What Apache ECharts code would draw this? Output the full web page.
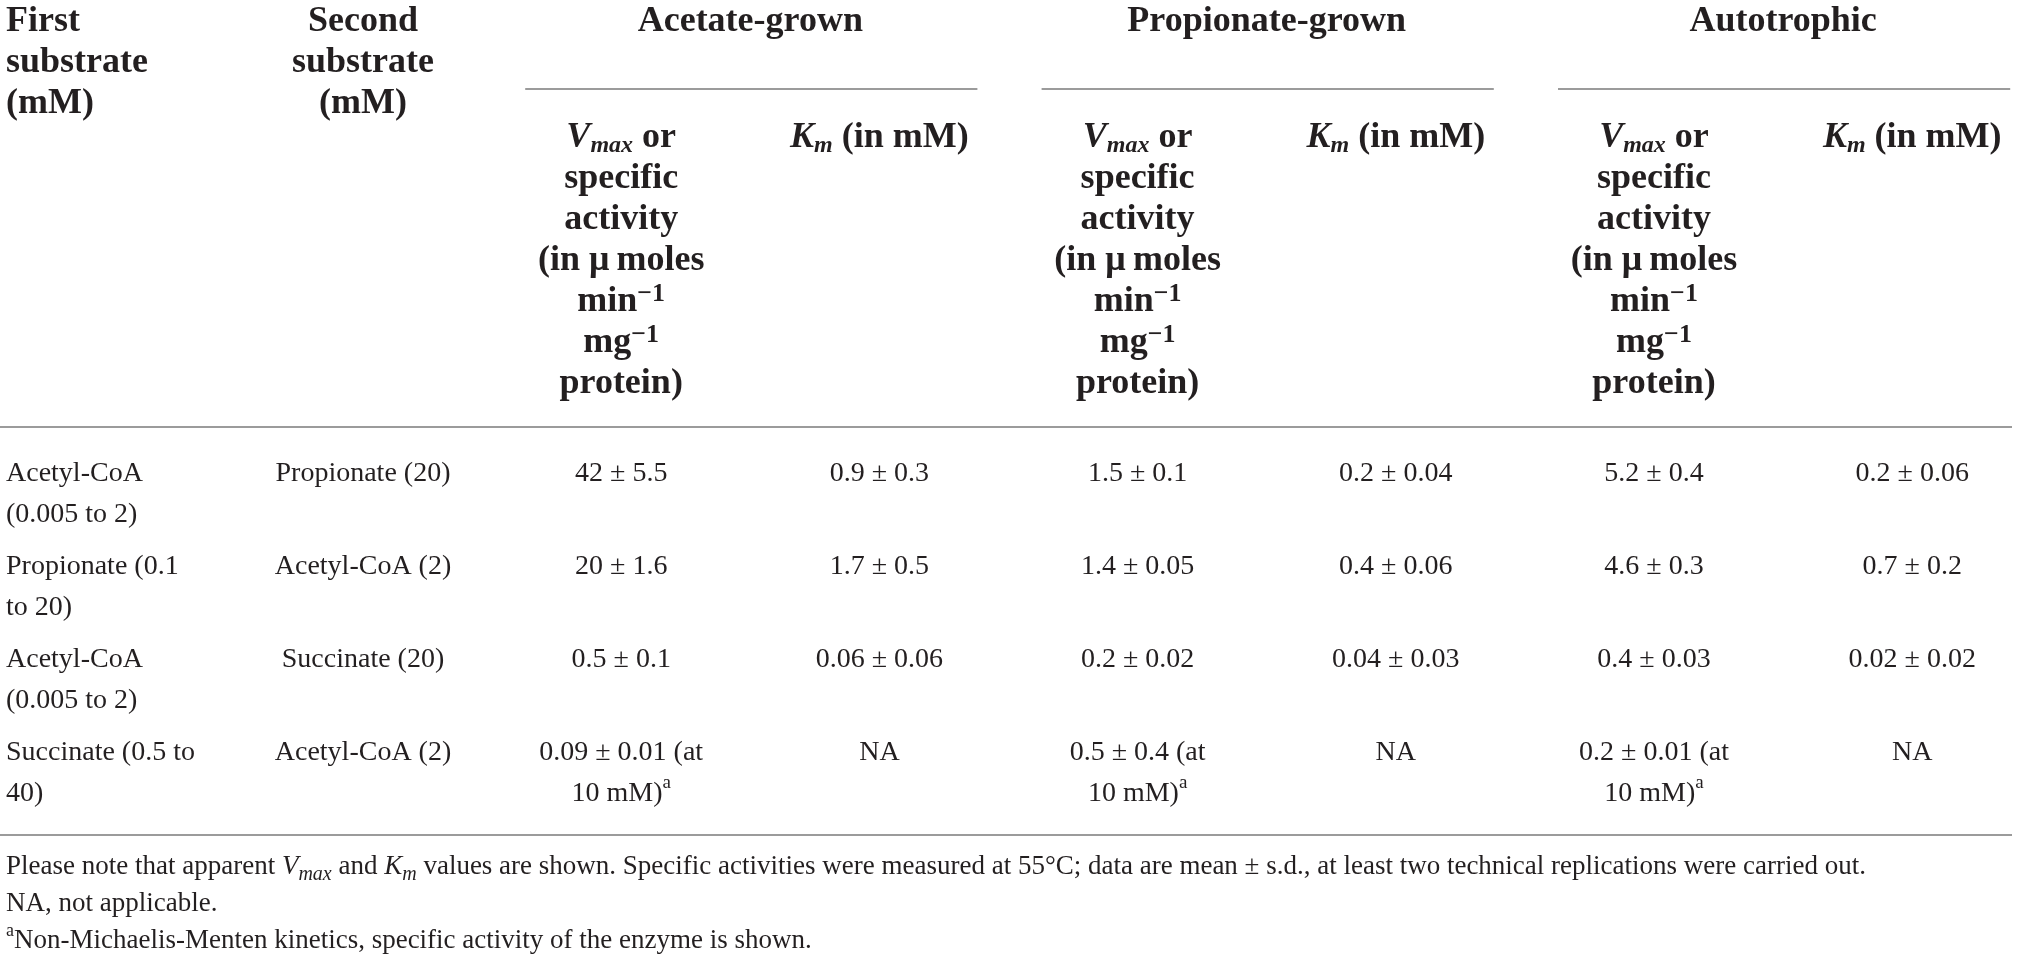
<!DOCTYPE html>
<html>
<head>
<meta charset="utf-8">
<title>Enzyme kinetics table</title>
<script src="https://cdn.jsdelivr.net/npm/echarts@6.0.0/dist/echarts.min.js"></script>
<style>
    html, body { margin: 0; padding: 0; background: #fff; }
    #main { width: 2019px; height: 962px; }
</style>
</head>
<body>
<div id="main"></div>
<script>
// 1、表格数据（每行 = 一组底物组合）
var firstSubstrate = ['Acetyl-CoA\n(0.005 to 2)', 'Propionate (0.1\nto 20)', 'Acetyl-CoA\n(0.005 to 2)', 'Succinate (0.5 to\n40)'];
var secondSubstrate = ['Propionate (20)', 'Acetyl-CoA (2)', 'Succinate (20)', 'Acetyl-CoA (2)'];

var acetateVmax = [42, 20, 0.5, 0.09];
var acetateVmaxSd = [5.5, 1.6, 0.1, 0.01];
var acetateKm = [0.9, 1.7, 0.06, null];
var acetateKmSd = [0.3, 0.5, 0.06, null];

var propionateVmax = [1.5, 1.4, 0.2, 0.5];
var propionateVmaxSd = [0.1, 0.05, 0.02, 0.4];
var propionateKm = [0.2, 0.4, 0.04, null];
var propionateKmSd = [0.04, 0.06, 0.03, null];

var autotrophicVmax = [5.2, 4.6, 0.4, 0.2];
var autotrophicVmaxSd = [0.4, 0.3, 0.03, 0.01];
var autotrophicKm = [0.2, 0.7, 0.02, null];
var autotrophicKmSd = [0.06, 0.2, 0.02, null];

// 非米氏动力学的行：给出该浓度下的比活性
var measuredAt = [null, null, null, '10 mM'];

// 表头
var groupNames = ['Acetate-grown', 'Propionate-grown', 'Autotrophic'];
var firstHeader = 'First\nsubstrate\n(mM)';
var secondHeader = 'Second\nsubstrate\n(mM)';
var vmaxHeader = '{bi|V}{bsub|max}{b| or}\n{b|specific}\n{b|activity}\n{b|(in \u03bc\u2009moles}\n{b|min}{bsup|\u22121}\n{b|mg}{bsup|\u22121}\n{b|protein)}';
var kmHeader = '{bi|K}{bsub|m}{b| (in mM)}';

// 表注
var footnotes = [
    '{t|Please note that apparent }{i|V}{sub|max}{t| and }{i|K}{sub|m}{t| values are shown. Specific activities were measured at 55\u00b0C; data are mean \u00b1 s.d., at least two technical replications were carried out.}',
    '{t|NA, not applicable.}',
    '{sup|a}{t|Non-Michaelis-Menten kinetics, specific activity of the enzyme is shown.}'
];

// 2、版面参数
var W = 2019, H = 962;
var FONT = '"Liberation Serif", "Times New Roman", serif';
var INK = '#231f20';
var RULE = '#9b9b9b';
var colStep = 258.2, col1X = 363;        // 列中心间距
var rowTop = 453.5, rowStep = 93;        // 数据行顶端与行距
var leftX = 6;

function colX(i) { return col1X + (i - 1) * colStep; }

function wrap(s) {
    return s.split('\n').map(function (l) { return '{t|' + l + '}'; }).join('\n');
}

function wrapHead(s) {
    return s.split('\n').map(function (l) { return '{b|' + l + '}'; }).join('\n');
}

function fmt(m, sd, at) {
    if (m == null) return '{t|NA}';
    if (at) return '{t|' + m + ' \u00b1 ' + sd + ' (at}\n{t|' + at + ')}{sup|a}';
    return '{t|' + m + ' \u00b1 ' + sd + '}';
}

function cells(means, sds) {
    return means.map(function (m, r) { return fmt(m, sds[r], measuredAt[r]); });
}

var columns = [
    firstSubstrate.map(wrap),
    secondSubstrate.map(wrap),
    cells(acetateVmax, acetateVmaxSd),
    cells(acetateKm, acetateKmSd),
    cells(propionateVmax, propionateVmaxSd),
    cells(propionateKm, propionateKmSd),
    cells(autotrophicVmax, autotrophicVmaxSd),
    cells(autotrophicKm, autotrophicKmSd)
];

var dataRich = {
    t: { fontFamily: FONT, fontSize: 28, lineHeight: 41, color: INK },
    sup: { fontFamily: FONT, fontSize: 19, lineHeight: 27, verticalAlign: 'top', color: INK }
};

var headRich = {
    b: { fontFamily: FONT, fontWeight: 'bold', fontSize: 36, lineHeight: 41, color: INK },
    bi: { fontFamily: FONT, fontWeight: 'bold', fontStyle: 'italic', fontSize: 36, lineHeight: 41, color: INK },
    bsub: { fontFamily: FONT, fontWeight: 'bold', fontStyle: 'italic', fontSize: 24, lineHeight: 21, verticalAlign: 'bottom', color: INK },
    bsup: { fontFamily: FONT, fontWeight: 'bold', fontSize: 26, lineHeight: 22, verticalAlign: 'top', color: INK }
};

var noteRich = {
    t: { fontFamily: FONT, fontSize: 27, lineHeight: 37, color: INK },
    i: { fontFamily: FONT, fontStyle: 'italic', fontSize: 27, lineHeight: 37, color: INK },
    sub: { fontFamily: FONT, fontStyle: 'italic', fontSize: 20, lineHeight: 22, verticalAlign: 'bottom', color: INK },
    sup: { fontFamily: FONT, fontSize: 18, lineHeight: 23, verticalAlign: 'top', color: INK }
};

// 3、每一列作为一个散点系列，文字放在标签里
var series = columns.map(function (col, i) {
    return {
        type: 'scatter',
        silent: true,
        symbolSize: 1,
        itemStyle: { color: 'rgba(0,0,0,0)', opacity: 1 },
        data: col.map(function (txt, r) { return [i, r, txt]; }),
        label: {
            show: true,
            position: 'inside',
            align: i === 0 ? 'left' : 'center',
            verticalAlign: 'top',
            offset: i === 0 ? [leftX - colX(0), 0] : [0, 0],
            color: INK,
            opacity: 1,
            textBorderWidth: 0,
            formatter: function (p) { return p.value[2]; },
            rich: dataRich
        }
    };
});

// 表头和横线
function headText(x, y, text, align) {
    return {
        type: 'text', x: x, y: y, silent: true,
        style: { text: text, align: align || 'center', verticalAlign: 'top', fill: INK, rich: headRich }
    };
}
function rule(x1, x2, y) {
    return {
        type: 'line', silent: true,
        shape: { x1: x1, y1: y, x2: x2, y2: y },
        style: { stroke: RULE, lineWidth: 2 }
    };
}

var graphics = [
    headText(leftX, 1, wrapHead(firstHeader), 'left'),
    headText(colX(1), 1, wrapHead(secondHeader)),
    rule(0, 2012, 427),
    rule(0, 2012, 835)
];

groupNames.forEach(function (name, g) {
    var c = 2 + g * 2;
    graphics.push(headText((colX(c) + colX(c + 1)) / 2, 1, '{b|' + name + '}'));
    graphics.push(rule(colX(c) - 96, colX(c + 1) + 98, 89));
    graphics.push(headText(colX(c), 117, vmaxHeader));
    graphics.push(headText(colX(c + 1), 117, kmHeader));
});

graphics.push({
    type: 'text', x: leftX, y: 848, silent: true,
    style: { text: footnotes.join('\n'), align: 'left', verticalAlign: 'top', fill: INK, rich: noteRich }
});

var myChart = echarts.init(document.getElementById('main'));
var xMin = 1 - col1X / colStep;
var yMin = -rowTop / rowStep;

var option = {
    animation: false,
    backgroundColor: '#fff',
    grid: { left: 0, right: 0, top: 0, bottom: 0 },
    xAxis: { type: 'value', show: false, min: xMin, max: xMin + W / colStep },
    yAxis: { type: 'value', show: false, inverse: true, min: yMin, max: yMin + H / rowStep },
    graphic: graphics,
    series: series
};
myChart.setOption(option);
</script>
</body>
</html>
